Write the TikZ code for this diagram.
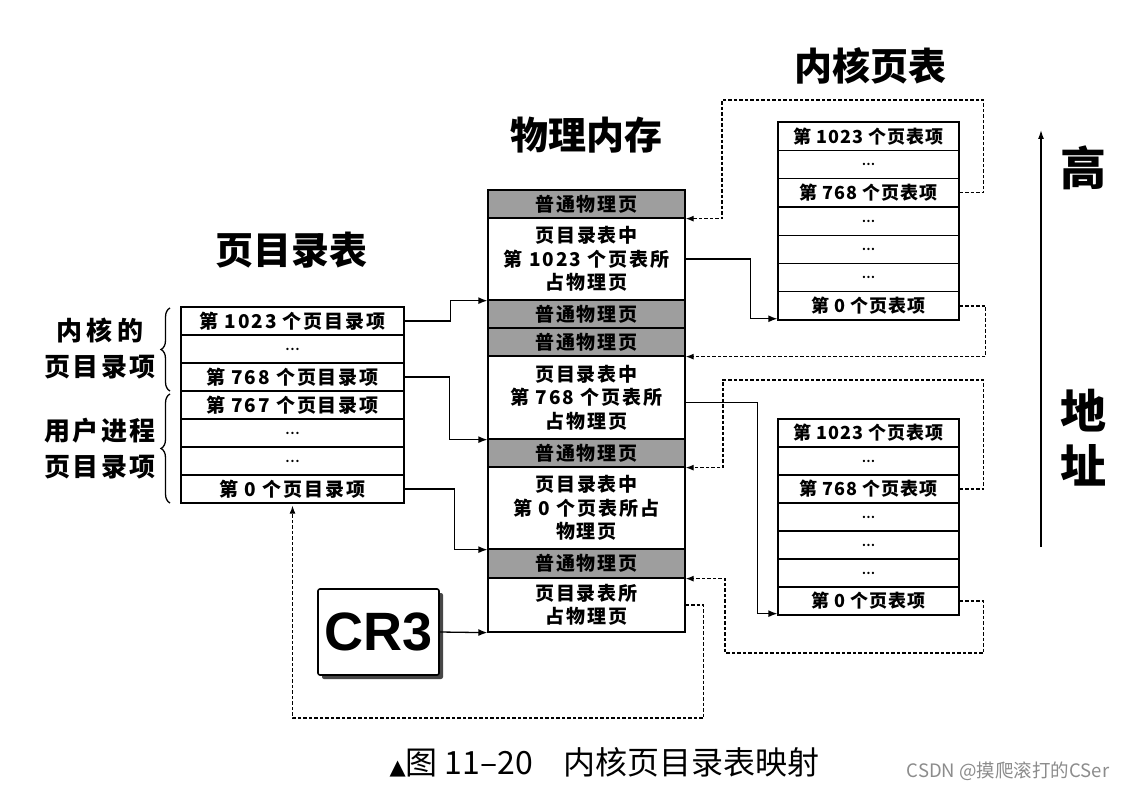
\documentclass[tikz,border=0pt]{standalone}
\usepackage{fontspec}
\setmainfont{Noto Sans CJK SC}
\newfontfamily\cjksp[LetterSpace=10]{Noto Sans CJK SC}
\newfontfamily\cjkrt[LetterSpace=6]{Noto Sans CJK SC}
\newfontfamily\cjkside[LetterSpace=8]{Noto Sans CJK SC}
\newfontfamily\arialb{Liberation Sans}
\newfontfamily\djv{DejaVu Sans}
\usetikzlibrary{arrows.meta,decorations.pathreplacing,shadows}
\newcommand\dts{{\fontsize{11}{11}\selectfont ...}}
\begin{document}
\begin{tikzpicture}[x=1pt,y=-1pt,
  tb/.style={draw, line width=1.3pt, inner sep=0pt, align=center, font=\cjksp\fontsize{19}{21}\selectfont\bfseries},
  lrow/.style={tb, minimum width=223pt, minimum height=28pt},
  rrow/.style={tb, minimum width=181pt, minimum height=28.3pt, font=\cjkrt\fontsize{18}{20}\selectfont\bfseries},
  brow/.style={tb, minimum width=181pt, minimum height=28pt, font=\cjkrt\fontsize{18}{20}\selectfont\bfseries},
  mrow/.style={tb, minimum width=197pt, minimum height=#1, font=\cjksp\fontsize{19}{23.5}\selectfont\bfseries},
  gbar/.style={mrow=#1, fill=black!38},
  arr/.style={line width=1.3pt, -{Latex[length=9pt,width=7pt]}},
  darr/.style={line width=1.2pt, dash pattern=on 3.5pt off 2pt, -{Latex[length=8pt,width=6pt]}},
  ttl/.style={font=\fontsize{38}{40}\selectfont\bfseries},
  side/.style={align=center, font=\cjkside\fontsize{26}{36}\selectfont\bfseries},
  brc/.style={decorate, decoration={brace, amplitude=9pt}, line width=1.3pt}
]
\fill[white] (0,0) rectangle (1130,789);
\useasboundingbox (0,0) rectangle (1130,789);

% titles
\node[ttl] (t1) at (291,250) {页目录表};
\node[ttl] (t2) at (586,135) {物理内存};
\node[ttl] (t3) at (870,66) {内核页表};

% left table
\node[lrow] (L1) at (292.5,321) {第 1023 个页目录项};
\node[lrow] (L2) at (292.5,349) {\dts};
\node[lrow] (L3) at (292.5,377) {第 768 个页目录项};
\node[lrow] (L4) at (292.5,405) {第 767 个页目录项};
\node[lrow] (L5) at (292.5,433) {\dts};
\node[lrow] (L6) at (292.5,461) {\dts};
\node[lrow] (L7) at (292.5,489) {第 0 个页目录项};

% braces and side labels
\draw[brc] (170,391) -- (170,308);
\draw[brc] (170,503) -- (170,394);
\node[side] (s1) at (100,349) {内\hspace{5pt}核\hspace{5pt}的\\页目录项};
\node[side] (s2) at (100,449) {用户进程\\页目录项};

% middle column
\node[gbar=28pt] (M1) at (586.5,204) {普通物理页};
\node[mrow=82pt] (M2) at (586.5,259) {页目录表中\\第 1023 个页表所\\占物理页};
\node[gbar=28pt] (M3) at (586.5,314) {普通物理页};
\node[gbar=28pt] (M4) at (586.5,342) {普通物理页};
\node[mrow=83pt] (M5) at (586.5,397.5) {页目录表中\\第 768 个页表所\\占物理页};
\node[gbar=28pt] (M6) at (586.5,453) {普通物理页};
\node[mrow=82pt] (M7) at (586.5,508) {页目录表中\\第 0 个页表所占\\物理页};
\node[gbar=29pt] (M8) at (586.5,563.5) {普通物理页};
\node[mrow=54pt] (M9) at (586.5,605) {页目录表所\\占物理页};

% top right table
\node[rrow] (T1) at (868.5,136.15) {第 1023 个页表项};
\node[rrow] (T2) at (868.5,164.45) {\dts};
\node[rrow] (T3) at (868.5,192.75) {第 768 个页表项};
\node[rrow] (T4) at (868.5,221.05) {\dts};
\node[rrow] (T5) at (868.5,249.35) {\dts};
\node[rrow] (T6) at (868.5,277.65) {\dts};
\node[rrow] (T7) at (868.5,305.95) {第 0 个页表项};

% bottom right table
\node[brow] (B1) at (868.5,433) {第 1023 个页表项};
\node[brow] (B2) at (868.5,461) {\dts};
\node[brow] (B3) at (868.5,489) {第 768 个页表项};
\node[brow] (B4) at (868.5,517) {\dts};
\node[brow] (B5) at (868.5,545) {\dts};
\node[brow] (B6) at (868.5,573) {\dts};
\node[brow] (B7) at (868.5,601) {第 0 个页表项};

% CR3
\node[draw, line width=1.6pt, rounded corners=2pt, minimum width=121pt, minimum height=86pt, fill=white,
  drop shadow={shadow xshift=4pt, shadow yshift=-4pt, fill=black!80, opacity=0.9},
  font=\arialb\bfseries\fontsize{54}{54}\selectfont] (cr3) at (378.5,632) {CR3};

% solid arrows
\draw[arr] (L1.east) -- ++(46,0) |- (M2.south west);
\draw[arr] (L3.east) -- ++(45,0) |- (M5.south west);
\draw[arr] (L7.east) -- ++(50,0) |- (M7.south west);
\draw[arr] (cr3.east) -- (M9.south west);
\draw[arr] (M2.east) -- ++(65,0) |- ([yshift=2pt]T7.south west);
\draw[arr] ([yshift=-5pt]M5.east) -- ++(72,0) |- ([yshift=2pt]B7.south west);

% dashed arrows
\draw[darr] (M9.east) -- ++(18,0) -- ++(0,113) -| ([yshift=-2pt]L7.south);
\draw[darr] (T3.east) -- ++(24,0) |- (722,100) |- (M1.south east);
\draw[darr] (T7.east) -- ++(26,0) |- (M4.south east);
\draw[darr] (B3.east) -- ++(24,0) |- (723,380) |- (M6.south east);
\draw[darr] (B7.east) -- ++(24,0) |- (725,653) |- (M8.south east);

% address axis
\coordinate (ab) at (1041,547);
\coordinate (at) at (1041,130);
\draw[line width=1.3pt, -{Latex[length=9pt,width=6pt]}] (ab) -- (at);
\node[font=\fontsize{46}{46}\selectfont\bfseries] (hi) at (1083,168) {高};
\node[align=center, font=\fontsize{46}{55}\selectfont\bfseries] (addr) at (1083,438) {地\\址};

% caption
\node[anchor=west, font=\fontsize{32}{33}\selectfont] (cap) at (386,762) {{\djv\fontsize{21}{21}\selectfont ▲}图 11–20\hspace{30pt}内核页目录表映射};
\node[font=\fontsize{18.5}{19}\selectfont, text=black!45] (wm) at (1008,771) {CSDN @摸爬滚打的CSer};
\end{tikzpicture}
\end{document}
